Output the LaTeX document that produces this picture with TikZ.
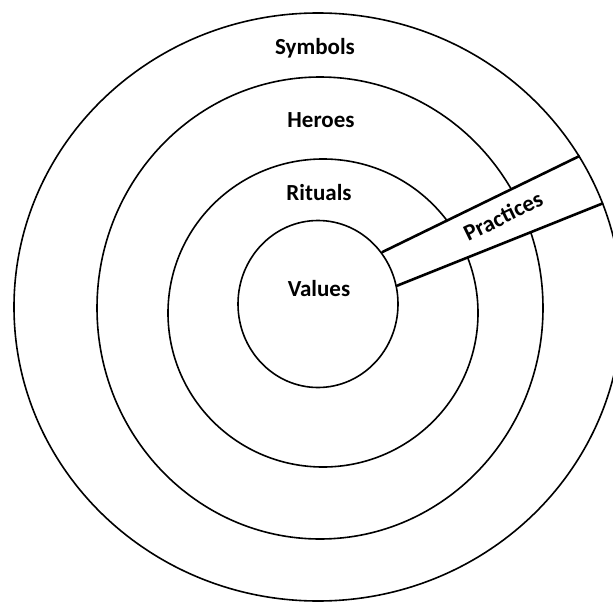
\documentclass[tikz,border=0pt]{standalone}
\usepackage{fontspec}
\setmainfont{Carlito}
\usetikzlibrary{shapes.geometric}

\begin{document}
\begin{tikzpicture}[x=1pt, y=-1pt, font=\fontsize{23}{27}\selectfont\bfseries]
%% coordinates are given in pixels of the original drawing (y grows downwards)
%% the rings are ellipses since the source figure is slightly stretched
\tikzstyle{ring}=[ellipse, draw=black, line width=1.6pt, inner sep=0pt]
\tikzstyle{layer}=[text=black, inner sep=1pt]
\tikzstyle{band}=[draw=black, line width=2.6pt]
\useasboundingbox (0,0) rectangle (613,602);
\clip (0,0) rectangle (613,602);
%% TikZ-figure elements %%
\node[ring, minimum width=608pt, minimum height=588pt] at (318,307) (SymbolsRing) {};
\node[ring, minimum width=160pt, minimum height=167pt] at (318,304) (ValuesRing) {};
%% the two middle rings stop at the practices band
\begin{scope}[even odd rule]
\clip (0,0) rectangle (613,602)
  (ValuesRing.39) -- (SymbolsRing.30.6) -- (SymbolsRing.20.4) -- (ValuesRing.13) -- cycle;
\node[ring, minimum width=446pt, minimum height=462pt] at (320,308) (HeroesRing) {};
\node[ring, minimum width=310pt, minimum height=308pt] at (323,313) (RitualsRing) {};
\end{scope}
%% labels of the layers
\node[layer] at (315,48) (Symbols) {Symbols};
\node[layer] at (321,120) (Heroes) {Heroes};
\node[layer] at (319,193) (Rituals) {Rituals};
\node[layer] at (319,289) (Values) {Values};
%% the practices band cuts through the outer layers
\draw[band] (ValuesRing.39) -- (SymbolsRing.30.6);
\draw[band] (ValuesRing.13) -- (SymbolsRing.20.4);
\node[layer, rotate=26] at (503,216) (Practices) {Practices};
\end{tikzpicture}
\end{document}
